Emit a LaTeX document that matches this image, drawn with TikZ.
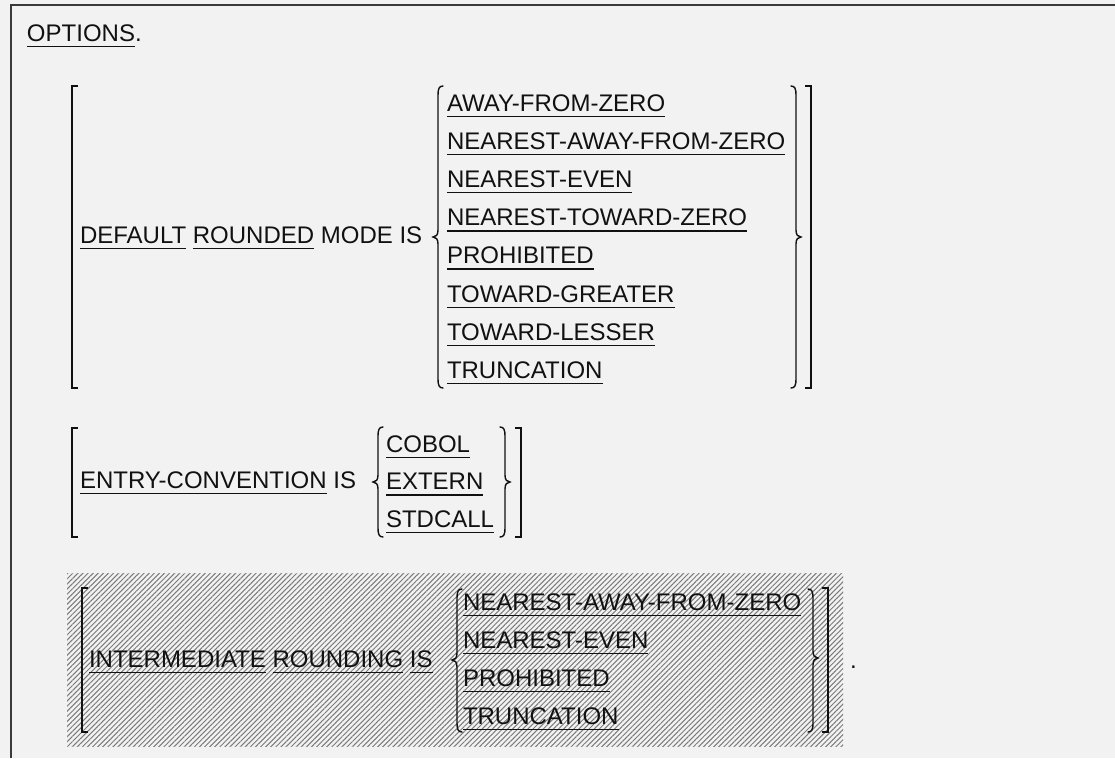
\documentclass[tikz,border=0pt]{standalone}
\usepackage{fontspec}
\setmainfont{Liberation Sans}
\usetikzlibrary{patterns.meta}

\definecolor{bg}{HTML}{F2F2F2}
\definecolor{ink}{HTML}{111111}
\definecolor{framecol}{HTML}{3A3A3A}
\definecolor{hatchcol}{HTML}{7A7A7A}

% keyword: text with a rule set below the baseline
\newcommand\kw[1]{\setbox0\hbox{#1}\rlap{\color{ink}\rule[-6pt]{\wd0}{1.5pt}}\box0\relax}

% square brackets: x, top, bottom
\newcommand\lbrk[3]{\draw[fence] ({#1+6},#2) -- (#1,#2) -- (#1,#3) -- ({#1+6},#3);}
\newcommand\rbrk[3]{\draw[fence] ({#1-6},#2) -- (#1,#2) -- (#1,#3) -- ({#1-6},#3);}
% curly braces: x, top, middle, bottom
\newcommand\lbrc[4]{\draw[brc] ({#1+5},#2) .. controls ({#1+1},#2) and (#1,{#2+3}) .. (#1,{#2+9})
  -- (#1,{#3-7}) .. controls (#1,{#3-2}) and ({#1-2},#3) .. ({#1-5},#3)
  .. controls ({#1-2},#3) and (#1,{#3+2}) .. (#1,{#3+7})
  -- (#1,{#4-9}) .. controls (#1,{#4-3}) and ({#1+1},#4) .. ({#1+5},#4);}
\newcommand\rbrc[4]{\draw[brc] ({#1-5},#2) .. controls ({#1-1},#2) and (#1,{#2+3}) .. (#1,{#2+9})
  -- (#1,{#3-7}) .. controls (#1,{#3-2}) and ({#1+2},#3) .. ({#1+5},#3)
  .. controls ({#1+2},#3) and (#1,{#3+2}) .. (#1,{#3+7})
  -- (#1,{#4-9}) .. controls (#1,{#4-3}) and ({#1-1},#4) .. ({#1-5},#4);}

\tikzset{
  txt/.style={anchor=base west, inner sep=0pt, outer sep=0pt, text=ink,
    font=\fontsize{24.0}{28}\selectfont},
  fence/.style={draw=ink, line width=1.5pt, line join=miter},
  brc/.style={draw=ink, line width=1.4pt, line cap=round},
  hatched/.style={pattern={Lines[angle=45, distance=3.6pt, line width=1pt]},
    pattern color=hatchcol},
}

\begin{document}
\begin{tikzpicture}[x=1pt, y=-1pt]
  % page and frame
  \fill[bg] (0,0) rectangle (1115,758);
  \useasboundingbox (0,0) rectangle (1115,758);
  \draw[framecol, line width=1.5pt] (11,758) -- (11,5) -- (1115,5);

  % heading
  \node[txt] (opts) at (27,41) {\kw{OPTIONS}.};

  % DEFAULT ROUNDED MODE clause
  \lbrk{72}{86}{388}
  \node[txt] (drm) at (80,243) {\kw{DEFAULT} \kw{ROUNDED} MODE IS};
  \lbrc{438}{86}{237}{388}
  \node[txt] (r1) at (447,111.0) {\kw{AWAY-FROM-ZERO}};
  \node[txt] (r2) at (447,149.2) {\kw{NEAREST-AWAY-FROM-ZERO}};
  \node[txt] (r3) at (447,187.4) {\kw{NEAREST-EVEN}};
  \node[txt] (r4) at (447,225.6) {\kw{NEAREST-TOWARD-ZERO}};
  \node[txt] (r5) at (447,263.8) {\kw{PROHIBITED}};
  \node[txt] (r6) at (447,302.0) {\kw{TOWARD-GREATER}};
  \node[txt] (r7) at (447,340.2) {\kw{TOWARD-LESSER}};
  \node[txt] (r8) at (447,378.4) {\kw{TRUNCATION}};
  \rbrc{796}{86}{237}{388}
  \rbrk{811}{86}{388}

  % ENTRY-CONVENTION clause
  \lbrk{72}{428}{537}
  \node[txt] (ec) at (80,488) {\kw{ENTRY-CONVENTION} IS};
  \lbrc{378}{427}{482}{537}
  \node[txt] (e1) at (386,452) {\kw{COBOL}};
  \node[txt] (e2) at (386,489.5) {\kw{EXTERN}};
  \node[txt] (e3) at (386,527) {\kw{STDCALL}};
  \rbrc{505}{427}{482}{537}
  \rbrk{521}{428}{537}

  % INTERMEDIATE ROUNDING clause (hatched)
  \path[hatched] (67,573) rectangle (843,746);
  \lbrk{82}{588}{732}
  \node[txt] (ir) at (89,667) {\kw{INTERMEDIATE} \kw{ROUNDING} \kw{IS}};
  \lbrc{457}{589}{660}{732}
  \node[txt] (i1) at (463,610) {\kw{NEAREST-AWAY-FROM-ZERO}};
  \node[txt] (i2) at (463,648) {\kw{NEAREST-EVEN}};
  \node[txt] (i3) at (463,686) {\kw{PROHIBITED}};
  \node[txt] (i4) at (463,724) {\kw{TRUNCATION}};
  \rbrc{813}{589}{658}{732}
  \rbrk{828}{588}{732}
  \node[txt] (dot) at (850,668) {.};
\end{tikzpicture}
\end{document}
